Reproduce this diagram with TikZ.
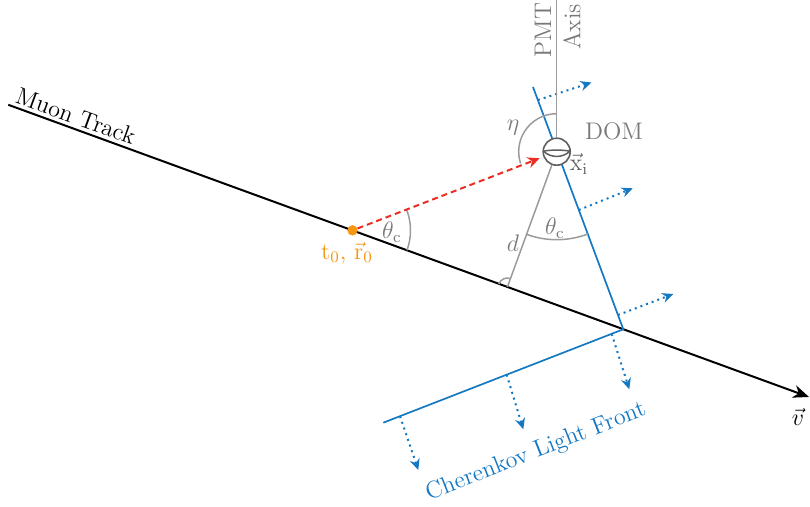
\documentclass[tikz,border=0pt]{standalone}
\usetikzlibrary{arrows.meta,calc}
\definecolor{cblue}{RGB}{20,120,195}
\definecolor{cgray}{RGB}{155,155,155}
\definecolor{tgray}{RGB}{120,120,120}
\definecolor{dgray}{RGB}{95,95,95}
\definecolor{corange}{RGB}{245,150,20}
\definecolor{cred}{RGB}{235,45,35}
\begin{document}
\begin{tikzpicture}[x=0.5pt,y=-0.5pt,
  every node/.style={font=\fontsize{12}{14}\selectfont, inner sep=0pt},
  track/.style={line width=1pt, black},
  front/.style={line width=0.85pt, cblue},
  geo/.style={line width=0.75pt, cgray},
  ray/.style={line width=1pt, cblue, dash pattern=on 1pt off 2pt, -{Stealth[length=5.5pt,width=5pt]}},
  photon/.style={line width=1pt, cred, dash pattern=on 3pt off 2pt, -{Stealth[length=6pt,width=5.5pt]}},
  lbl/.style={text=tgray}]
\useasboundingbox (0,0) rectangle (810,507);
% key points
\coordinate (A) at (8.3,104.8);
\coordinate (B) at (809,397);
\coordinate (T0) at (352.5,230.4);
\coordinate (D) at (556.7,151.7);
\coordinate (C) at (623.3,329.3);
\coordinate (T) at (533,87);
\coordinate (L) at (383.3,422.7);
\coordinate (F) at (507.4,287);
\coordinate (P) at (556.7,0);
% ray coordinates
\coordinate (u1s) at (538,100);   \coordinate (u1e) at (591.5,82.5);
\coordinate (u2s) at (578.8,210); \coordinate (u2e) at (632.7,188.3);
\coordinate (u3s) at (618,315);   \coordinate (u3e) at (673.3,294);
\coordinate (l1s) at (400,416.2); \coordinate (l1e) at (418.3,470);
\coordinate (l2s) at (506.7,374.7); \coordinate (l2e) at (523.3,429.3);
\coordinate (l3s) at (611.7,333.9); \coordinate (l3e) at (629.3,389.3);
% muon track
\draw[track, -{Stealth[length=8pt,width=6.5pt]}] (A) -- (B);
% Cherenkov front
\draw[front] (T) -- (C) -- (L);
\foreach \r in {u1,u2,u3,l1,l2,l3} \draw[ray] (\r s) -- (\r e);
% DOM
\node[circle, draw=dgray, fill=white, line width=0.8pt, minimum size=13.5pt] (dom) at (D) {};
\begin{scope}[shift={(D)}]
  \draw[dgray, line width=0.75pt] (-13.2,-0.5) .. controls (-6,-2) and (6,-2) .. (13.2,-0.5);
  \draw[dgray, line width=0.75pt] (-13.2,-0.5) .. controls (-6,6.5) and (6,6.5) .. (13.2,-0.5);
\end{scope}
% geometry lines
\draw[geo] (dom) -- (P);
\draw[geo] (dom) -- (F);
\draw[geo] (T0) ++(-21.07:58) arc[start angle=-21.07, end angle=20.05, radius=58];
\draw[geo] (D) ++(69.4:88) arc[start angle=69.4, end angle=110, radius=88];
\draw[geo] (D) ++(270:38) arc[start angle=270, end angle=162, radius=38];
\draw[geo] (F) ++(-70:9) arc[start angle=-70, end angle=-160, radius=9];
% photon
\node[circle, fill=corange, minimum size=5pt] (t0) at (T0) {};
\draw[photon, shorten >=2pt] (t0) -- (dom);
\node[circle, fill=corange, minimum size=5pt] at (T0) {};
% labels
\node[lbl, rotate=90] (pmt) at (543,30) {PMT};
\node[lbl, rotate=90] (axis) at (572,27) {Axis};
\node[lbl] (domlbl) at (614,131) {DOM};
\node[lbl] (eta) at (513,128) {$\eta$};
\node[text=dgray] (xi) at (579,164) {$\vec{\mathrm{x}}_\mathrm{i}$};
\node[lbl] (th1) at (392,232) {$\theta_\mathrm{c}$};
\node[lbl] (th2) at (555,228) {$\theta_\mathrm{c}$};
\node[lbl] (dl) at (513,243) {$d$};
\node[text=corange] (t0l) at (347,253) {$\mathrm{t}_0$, $\vec{\mathrm{r}}_0$};
\node (vl) at (798,417) {$\vec{v}$};
\node[rotate=-20.05] (muon) at (76,116) {Muon Track};
\node[text=cblue, rotate=21.5] (cher) at (536,452) {Cherenkov Light Front};
\end{tikzpicture}
\end{document}
